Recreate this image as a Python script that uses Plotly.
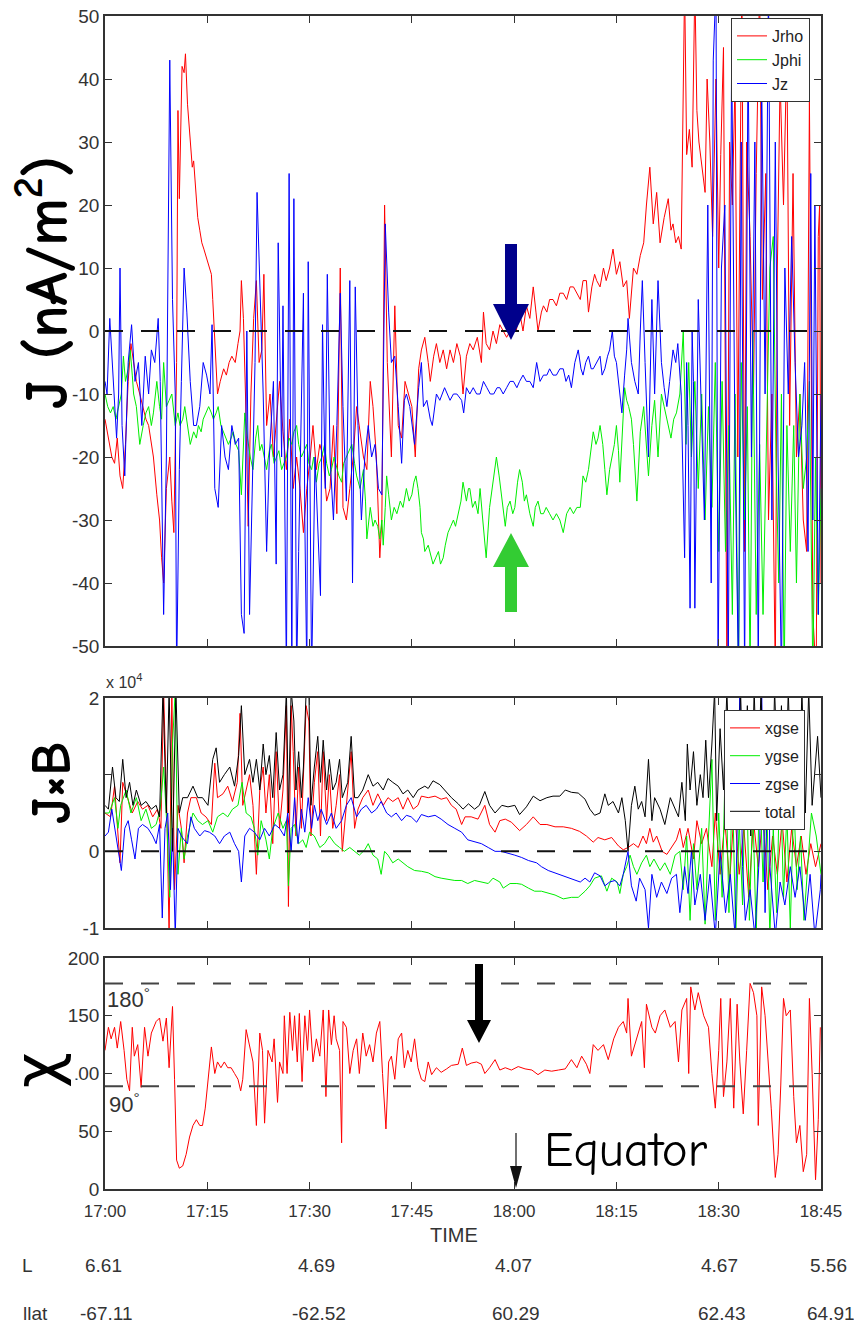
import plotly.graph_objects as go

W, H = 854, 1327

# ---------------- data (minutes after 17:00, value) ----------------
JRHO = [(0,-14),(0.5,-17),(1.0,-20),(1.4,-21),(1.8,-17),(2.2,-23),(2.6,-25),(3.0,-18),(3.4,-8),(3.8,-2),(4.2,-5),(4.6,-8),(5.1,-10),(5.6,-12),(6.0,-14),(6.4,-15),(6.8,-18),(7.1,-20),(7.6,-26),(8.0,-30),(8.3,-36),(8.6,-40),(9.0,-25),(9.5,-20),(9.8,-27),(10.1,-32),(10.5,-5),(10.7,35),(10.9,21),(11.1,30),(11.3,42),(11.6,41),(11.8,44),(12.1,36),(12.3,33),(12.5,30),(12.8,26),(13.0,27),(13.3,22),(13.6,18),(13.9,16),(14.2,14),(14.5,13),(14.8,12),(15.1,11),(15.4,10),(15.6,9),(15.8,5),(16.0,0),(16.2,-3),(16.5,-10),(16.9,-8),(17.4,-6),(17.8,-7),(18.2,-5),(18.6,-4),(19.1,-5),(19.5,-2),(19.8,0),(20.0,8),(20.3,2),(20.6,-10),(21.0,-31),(21.4,-10),(21.8,2),(22.2,8),(22.6,-5),(23.0,-3),(23.3,9),(23.7,-15),(24.2,-10),(24.7,-20),(25.1,-14),(25.6,-8),(26.1,-16),(26.6,-22),(27.1,-14),(27.6,-25),(28.1,-20),(28.6,-25),(29.1,-32),(29.6,-25),(30.1,-20),(30.5,-15),(31.0,-22),(31.5,-18),(32.0,-20),(32.5,-27),(33.0,-25),(33.5,-15),(34.0,-29),(34.5,10),(34.9,-28),(35.4,-30),(35.9,-25),(36.4,-20),(36.9,-12),(37.4,-16),(37.9,-20),(38.4,-22),(38.9,-8),(39.3,-12),(39.8,-20),(40.3,-36),(40.6,-30),(41.0,20),(41.4,-5),(42.0,-20),(42.5,4),(43.0,-15),(43.5,-17),(44.0,-8),(44.5,-10),(45.0,-12),(45.5,-20),(46.0,-6),(46.4,-3),(46.9,-1),(47.4,-5),(47.7,-8),(48.2,-4),(48.6,-2),(49.1,-5),(49.6,-3),(50.1,-6),(50.6,-3),(51.1,-5),(51.6,-2),(52.1,-4),(52.5,-10),(53.0,-4),(53.5,-2),(54.0,-3),(54.6,-1),(55.2,-5),(55.5,3),(55.9,-2),(56.4,-3),(56.9,0),(57.4,-2),(57.9,1),(58.4,0),(58.9,-1),(59.4,0),(59.9,2),(60.3,0),(60.8,3),(61.3,0),(61.8,4),(62.3,2),(62.8,7),(63.2,3),(63.5,0),(64.0,3),(64.3,4),(64.8,3),(65.2,5),(65.7,5),(66.2,4),(66.7,6),(67.2,6),(67.7,5),(68.2,7),(68.7,7),(69.2,6),(69.7,5),(70.1,8),(70.6,8),(70.9,3),(71.4,7),(71.8,9),(72.1,8),(72.6,7),(73.1,10),(73.5,8),(74.0,10),(74.5,13),(75.0,9),(75.5,11),(76.0,7),(76.5,8),(76.9,2),(77.5,10),(78.0,9),(78.5,12),(79.0,14),(79.4,20),(79.9,26),(80.4,17),(80.9,22),(81.4,14),(82.0,18),(82.6,21),(83.0,16),(83.3,17),(83.7,14),(84.1,15),(84.5,13),(85.0,55),(85.3,28),(85.7,32),(86.1,26),(86.5,55),(86.8,35),(87.1,30),(87.5,26),(88.0,22),(88.3,40),(88.7,30),(89.1,15),(89.6,40),(90.0,10),(90.3,28),(90.7,45),(91.2,-55),(91.6,30),(92.0,20),(92.4,40),(92.8,-20),(93.1,20),(93.4,55),(93.8,-35),(94.1,30),(94.6,15),(95.1,-10),(95.5,25),(96.0,55),(96.4,5),(96.9,25),(97.3,-30),(97.8,-10),(98.3,-55),(98.6,10),(99.0,40),(99.5,20),(100.0,45),(100.4,-15),(100.9,25),(101.4,-20),(101.9,-10),(102.4,-30),(102.9,-35),(103.3,37),(103.6,-10),(103.8,-45),(104.3,-55),(104.6,15),(104.8,20),(105,-40)]

JPHI = [(0,-10),(0.4,-12),(0.8,-13),(1.2,-12),(1.6,-14),(2.0,-12),(2.4,-10),(2.7,-4),(3.0,-8),(3.4,-6),(3.7,-3),(4.0,-7),(4.2,-10),(4.6,-12),(5.1,-18),(5.6,-15),(6.0,-13),(6.4,-12),(6.8,-15),(7.1,-13),(7.6,-8),(8.0,-12),(8.3,-14),(8.6,-5),(9.0,-12),(9.4,-11),(9.8,-10),(10.3,-15),(10.7,-13),(11.0,-15),(11.4,-14),(11.7,-12),(12.1,-15),(12.5,-18),(13.0,-16),(13.4,-17),(13.7,-15),(14.1,-16),(14.4,-14),(14.8,-13),(15.2,-12),(15.6,-13),(15.9,-14),(16.3,-13),(16.6,-12),(17.0,-15),(17.4,-16),(17.8,-17),(18.1,-18),(18.5,-17),(18.8,-16),(19.2,-18),(19.6,-19),(20.0,-26),(20.3,-18),(20.5,-13),(20.9,-17),(21.3,-20),(21.7,-22),(22.1,-17),(22.4,-15),(22.7,-19),(23.0,-18),(23.4,-20),(23.7,-22),(24.1,-19),(24.4,-18),(24.8,-21),(25.2,-20),(25.5,-19),(25.9,-22),(26.2,-21),(26.6,-20),(27.0,-17),(27.4,-18),(27.7,-16),(28.1,-15),(28.4,-18),(28.8,-20),(29.2,-19),(29.6,-18),(29.9,-21),(30.3,-22),(30.6,-20),(31.0,-24),(31.4,-21),(31.8,-20),(32.2,-18),(32.5,-21),(32.9,-23),(33.2,-22),(33.6,-20),(34.0,-22),(34.3,-23),(34.7,-24),(35.0,-21),(35.4,-20),(35.8,-19),(36.2,-18),(36.6,-21),(36.9,-23),(37.4,-25),(37.9,-22),(38.2,-27),(38.4,-33),(38.7,-30),(38.9,-28),(39.3,-31),(39.6,-30),(40.0,-31),(40.3,-33),(40.6,-30),(40.8,-34),(41.1,-28),(41.3,-23),(41.6,-26),(42.0,-30),(42.4,-28),(42.8,-29),(43.3,-27),(43.7,-28),(44.2,-25),(44.6,-27),(45.0,-26),(45.3,-24),(45.6,-23),(45.9,-25),(46.2,-28),(46.4,-32),(46.7,-33),(46.9,-35),(47.4,-34),(47.8,-36),(48.1,-37),(48.5,-36),(48.9,-35),(49.2,-37),(49.6,-36),(49.9,-34),(50.3,-32),(50.7,-31),(51.1,-30),(51.4,-31),(51.8,-29),(52.2,-27),(52.5,-24),(52.8,-26),(53.0,-27),(53.3,-25),(53.5,-25),(53.9,-28),(54.3,-27),(54.7,-29),(55.0,-25),(55.4,-30),(55.9,-36),(56.4,-28),(56.9,-24),(57.4,-20),(57.8,-23),(58.2,-27),(58.7,-31),(59.0,-28),(59.4,-27),(59.8,-29),(60.1,-28),(60.5,-24),(60.8,-22),(61.2,-24),(61.5,-27),(61.8,-26),(62.3,-29),(62.8,-31),(63.1,-28),(63.5,-27),(63.9,-29),(64.3,-29),(64.7,-28),(65.2,-29),(65.7,-30),(66.2,-29),(66.7,-30),(67.2,-32),(67.7,-29),(68.2,-28),(68.7,-29),(69.2,-28),(69.7,-28),(70.1,-23),(70.5,-24),(70.9,-22),(71.2,-19),(71.6,-16),(72.0,-18),(72.3,-17),(72.6,-15),(73.0,-18),(73.3,-22),(73.6,-26),(74.0,-22),(74.3,-20),(74.7,-18),(75.0,-15),(75.3,-19),(75.5,-24),(75.9,-14),(76.2,-9),(76.5,-11),(76.8,-12),(77.2,-14),(77.5,-18),(78.0,-27),(78.5,-16),(79.0,-12),(79.3,-17),(79.7,-23),(80.2,-15),(80.6,-11),(81.1,-20),(81.6,-10),(82.0,-12),(82.4,-14),(83.0,-17),(83.4,-14),(83.8,-13),(84.3,-10),(84.8,0),(85.2,-18),(85.6,-5),(86.0,-20),(86.5,-8),(87.0,-25),(87.5,-10),(88.0,-30),(88.5,-12),(89.0,-28),(89.5,-5),(90.0,-35),(90.5,-8),(91.0,-35),(91.5,-15),(92.0,-45),(92.4,-10),(92.9,-55),(93.3,-5),(93.8,-30),(94.2,-12),(94.6,-55),(95.0,0),(95.5,-45),(96.0,-18),(96.5,-45),(97.0,-20),(97.5,10),(98.0,15),(98.4,-20),(98.8,-40),(99.2,-10),(99.6,-55),(100.0,-15),(100.5,-35),(101.0,-15),(101.4,-40),(101.9,-10),(102.4,-25),(102.9,-20),(103.3,-8),(103.8,-55),(104.2,-20),(104.6,-45),(105,-25)]

JZ = [(0,-8),(0.3,-10),(0.7,2),(1.2,-8),(1.7,-17),(2.0,-10),(2.2,10),(2.5,-15),(2.9,-23),(3.4,-5),(3.9,1),(4.4,-8),(4.9,-5),(5.4,-15),(5.9,-4),(6.4,-10),(6.8,-3),(7.3,-5),(7.8,2),(8.1,-8),(8.6,-45),(9.0,-20),(9.5,43),(9.9,5),(10.3,-10),(10.5,-55),(10.9,-22),(11.2,-8),(11.6,10),(12.0,3),(12.5,-8),(13.0,-15),(13.4,-15),(13.9,-12),(14.4,-5),(14.9,-7),(15.4,-10),(15.7,1),(16.1,-25),(16.6,-28),(17.1,-15),(17.6,-20),(18.1,-22),(18.6,-15),(19.1,-18),(19.6,-17),(20.0,-45),(20.4,-48),(20.8,0),(21.2,-45),(21.5,-30),(22.0,-5),(22.3,22),(22.7,9),(23.2,-10),(23.7,-35),(24.1,-20),(24.7,-8),(25.1,-37),(25.4,14),(25.9,-20),(26.1,4),(26.6,-55),(27.0,25),(27.4,-55),(27.7,21),(28.1,-55),(28.4,-35),(28.8,-10),(29.1,6),(29.3,-30),(29.6,-55),(29.8,11),(30.3,-55),(30.8,-20),(31.3,-35),(31.6,-42),(31.9,1),(32.3,-25),(32.6,9),(33.0,-20),(33.5,-30),(34.0,-15),(34.5,6),(34.9,-12),(35.4,-27),(35.9,8),(36.3,-40),(36.7,7),(37.1,-15),(37.6,-30),(38.1,-20),(38.6,-15),(39.1,-20),(39.6,-18),(40.1,-25),(40.6,-26),(41.1,17),(41.6,3),(42.0,-5),(42.5,-4),(43.0,-12),(43.5,-21),(43.9,-11),(44.2,-10),(44.7,-12),(45.4,-18),(46.0,-9),(46.4,-5),(46.7,-12),(47.2,-11),(47.7,-14),(48.0,-15),(48.6,-10),(49.1,-11),(49.8,-9),(50.6,-11),(51.1,-10),(51.6,-10),(52.3,-11),(52.6,-13),(53.0,-9),(53.5,-10),(54.0,-9),(54.5,-10),(55.0,-10),(55.5,-8),(56.0,-9),(56.5,-10),(57.0,-10),(57.5,-9),(57.9,-9),(58.4,-10),(58.9,-9),(59.4,-8),(59.9,-8),(60.4,-9),(60.8,-8),(61.3,-7),(61.8,-8),(62.3,-8),(62.8,-9),(63.3,-5),(63.8,-8),(64.3,-7),(64.8,-7),(65.2,-6),(65.7,-7),(66.2,-7),(66.7,-6),(67.2,-6),(67.6,-8),(68.0,-7),(68.4,-9),(68.9,-5),(69.4,-3),(69.8,-6),(70.1,-7),(70.5,-5),(70.9,-4),(71.3,-6),(71.6,-6),(72.1,-5),(72.6,-4),(72.9,-7),(73.3,-6),(73.7,-4),(74.0,-3),(74.4,0),(74.7,-4),(75.0,-5),(75.4,-9),(75.8,-13),(76.2,-7),(76.5,-3),(76.7,2),(77.0,-3),(77.2,-5),(77.7,-8),(78.2,-10),(78.5,0),(78.8,8),(79.2,-5),(79.7,-20),(80.2,5),(80.6,-10),(81.1,8),(81.6,-5),(82.0,-9),(82.4,-12),(82.8,-8),(83.3,-3),(83.7,-5),(84.0,-2),(84.5,-10),(85.0,-36),(85.3,-5),(85.5,-15),(85.8,-44),(86.1,0),(86.3,-8),(86.5,-44),(87.0,5),(87.5,-15),(87.9,-30),(88.4,20),(88.9,-40),(89.2,43),(89.6,55),(89.9,-55),(90.4,10),(90.9,20),(91.4,-55),(91.9,45),(92.4,-20),(92.9,-55),(93.3,30),(93.8,-55),(94.3,45),(94.8,-20),(95.3,30),(95.8,-55),(96.3,40),(96.8,-10),(97.3,55),(97.8,-30),(98.3,30),(98.7,-20),(99.2,-55),(99.7,10),(100.2,-10),(100.7,15),(101.2,-5),(101.7,-20),(102.2,-15),(102.6,-5),(103.1,-35),(103.5,25),(103.8,-30),(104.1,20),(104.6,-45),(105,-10)]

XGSE = [(0,0.5),(0.8,0.45),(1.4,0.85),(2.0,0.0),(2.2,-0.15),(2.6,0.9),(3.3,0.7),(4.0,0.5),(4.8,0.65),(5.5,0.55),(6.3,0.6),(7.0,0.45),(7.7,0.55),(8.2,0.3),(8.6,2.1),(9.1,0.4),(9.4,-1.1),(9.8,2.1),(10.2,-0.5),(10.7,0.6),(11.2,0.3),(11.6,-0.15),(12.1,0.5),(12.6,0.7),(13.4,0.7),(14.1,0.5),(14.8,0.45),(15.6,0.35),(16.1,1.15),(16.5,0.7),(17.3,0.75),(18.0,0.85),(18.7,0.65),(19.4,0.9),(19.8,1.8),(20.2,0.6),(20.7,0.8),(21.2,1.0),(21.7,0.6),(22.2,-0.3),(22.7,0.8),(23.2,1.1),(23.6,0.5),(24.1,1.0),(24.6,0.1),(25.1,1.3),(25.6,0.3),(26.1,0.8),(26.6,1.9),(26.9,-0.72),(27.3,1.9),(27.6,1.3),(28.0,0.2),(28.4,1.1),(28.8,0.3),(29.1,0.9),(29.5,1.9),(29.9,1.7),(30.2,0.2),(30.7,0.9),(31.2,1.3),(31.6,0.2),(32.0,1.3),(32.5,0.4),(32.9,1.0),(33.4,0.3),(33.9,0.6),(34.4,1.0),(34.8,0.0),(35.4,0.6),(36.1,1.3),(36.6,0.3),(37.1,0.55),(37.8,0.7),(38.6,0.8),(39.3,0.6),(40.0,0.75),(40.8,0.6),(41.5,0.7),(42.2,0.65),(43.0,0.7),(43.7,0.55),(44.4,0.7),(45.2,0.55),(45.9,0.6),(46.4,0.72),(47.4,0.7),(48.4,0.72),(49.3,0.68),(50.1,0.7),(50.8,0.6),(51.5,0.55),(52.3,0.35),(52.8,0.45),(53.7,0.45),(54.7,0.42),(55.7,0.6),(56.4,0.35),(57.2,0.25),(57.9,0.4),(58.7,0.42),(59.6,0.38),(60.8,0.27),(61.8,0.35),(62.8,0.45),(63.8,0.35),(64.8,0.35),(66.0,0.32),(67.2,0.32),(68.4,0.3),(69.6,0.26),(70.6,0.2),(71.6,0.12),(72.3,0.18),(73.3,0.15),(74.3,0.18),(75.3,0.07),(76.0,0.02),(76.7,0.05),(77.5,0.1),(78.2,0.05),(78.9,0.2),(79.4,0.1),(79.9,0.3),(80.4,0.12),(80.9,0.2),(81.7,0.0),(82.4,-0.04),(83.1,0.05),(83.8,0.15),(84.3,0.3),(84.8,0.05),(85.5,0.3),(86.3,-0.1),(86.8,0.4),(87.5,0.1),(88.2,0.3),(89.0,-0.2),(89.5,0.5),(90.2,-0.3),(90.9,0.4),(91.6,-0.4),(92.3,0.6),(93.0,-0.3),(93.7,0.3),(94.4,-0.6),(95.1,0.4),(95.8,-0.2),(96.5,0.5),(97.2,-0.5),(97.9,0.2),(98.6,-0.3),(99.3,0.4),(100.0,-0.4),(100.7,0.3),(101.4,-0.2),(102.1,0.2),(102.8,-0.3),(103.5,0.1),(104.2,-0.2),(105,0.1)]

YGSE = [(0,0.5),(0.6,0.5),(1.4,0.7),(1.9,0.3),(2.3,0.6),(3.1,0.8),(3.8,0.5),(4.6,0.7),(5.3,0.4),(6.0,0.55),(6.8,0.3),(7.5,0.35),(8.1,0.55),(8.6,1.1),(9.1,0.3),(9.5,-0.6),(9.9,1.4),(10.3,2.1),(10.7,-0.3),(11.2,0.3),(11.6,-0.1),(12.1,0.2),(12.9,0.5),(13.6,0.4),(14.3,0.35),(15.1,0.4),(15.8,0.25),(16.5,0.45),(17.3,0.5),(18.0,0.45),(18.7,0.55),(19.5,0.6),(20.1,0.9),(20.7,0.5),(21.4,0.45),(21.9,0.3),(22.4,-0.05),(22.9,0.4),(23.6,0.15),(24.1,-0.1),(24.6,0.3),(25.4,0.5),(26.1,0.3),(26.6,0.4),(26.9,-0.45),(27.3,0.3),(27.8,0.35),(28.4,0.1),(29.0,0.15),(29.5,0.05),(30.0,0.25),(30.7,0.2),(31.5,0.05),(32.2,0.1),(32.9,0.2),(33.7,0.1),(34.4,0.05),(35.1,0.0),(35.9,0.05),(36.6,0.0),(37.3,-0.05),(38.1,0.02),(38.6,0.1),(39.3,-0.05),(40.0,-0.1),(40.5,-0.3),(41.0,0.0),(41.5,-0.05),(42.2,-0.15),(43.0,-0.1),(43.7,-0.15),(44.4,-0.2),(45.4,-0.25),(46.4,-0.26),(47.4,-0.28),(48.4,-0.33),(49.3,-0.35),(50.3,-0.37),(51.3,-0.38),(52.3,-0.38),(53.2,-0.42),(54.2,-0.38),(55.2,-0.4),(56.2,-0.42),(56.9,-0.35),(57.9,-0.4),(58.4,-0.48),(59.4,-0.42),(60.4,-0.42),(61.1,-0.43),(62.1,-0.48),(63.0,-0.52),(64.0,-0.52),(65.0,-0.55),(66.0,-0.57),(67.2,-0.62),(68.4,-0.6),(69.4,-0.6),(70.4,-0.52),(71.1,-0.45),(71.8,-0.35),(72.8,-0.32),(73.6,-0.52),(74.3,-0.35),(75.1,-0.4),(75.5,-0.55),(76.0,-0.3),(76.5,-0.2),(77.0,-0.05),(77.5,-0.2),(78.0,-0.3),(78.7,-0.15),(79.4,-0.05),(79.9,-0.2),(80.5,-0.1),(81.4,-0.25),(82.1,-0.15),(82.9,-0.3),(83.6,-0.05),(84.3,0.0),(84.8,-0.5),(85.3,0.2),(85.8,-0.9),(86.3,0.1),(86.8,-0.5),(87.5,0.3),(88.0,-0.95),(88.5,0.2),(89.0,1.2),(89.5,-0.9),(90.0,0.5),(90.5,-0.6),(91.0,1.3),(91.5,-0.8),(92.0,0.9),(92.5,-1.1),(93.0,0.4),(93.5,-0.7),(94.0,1.5),(94.5,-0.9),(95.0,0.6),(95.5,-1.1),(96.0,1.0),(96.5,-0.4),(97.0,0.8),(97.5,-1.1),(98.0,0.3),(98.5,-0.8),(99.0,1.2),(99.5,-0.6),(100.0,0.5),(100.5,-1.0),(101.0,0.7),(101.5,-0.5),(102.0,0.2),(102.5,-0.9),(103.0,-0.2),(103.6,0.5),(104.3,0.2),(105,-0.3)]

ZGSE = [(0,0.2),(0.5,0.25),(1.0,0.55),(1.5,0.25),(2.0,0.0),(2.4,-0.25),(2.9,0.3),(3.4,0.4),(3.9,0.15),(4.4,-0.1),(4.9,0.3),(5.5,0.35),(6.3,0.3),(7.0,0.2),(7.5,0.1),(8.0,0.35),(8.4,-0.87),(8.8,0.3),(9.2,0.5),(9.6,-0.5),(9.9,0.3),(10.3,-1.1),(10.7,0.3),(11.2,0.2),(11.6,0.15),(12.1,0.1),(12.6,0.45),(13.1,0.3),(13.9,0.2),(14.6,0.27),(15.3,0.25),(16.1,0.2),(16.8,0.1),(17.5,0.2),(18.3,0.25),(19.0,0.1),(19.6,0.0),(20.0,-0.4),(20.5,0.2),(21.2,0.3),(21.9,0.25),(22.7,0.15),(23.4,0.3),(24.1,0.2),(24.9,0.35),(25.6,0.3),(26.3,0.2),(26.8,0.5),(27.3,0.0),(27.8,0.7),(28.3,0.1),(28.8,0.55),(29.3,0.25),(29.8,0.7),(30.3,0.3),(30.7,0.6),(31.2,0.4),(31.7,0.55),(32.5,0.35),(33.2,0.5),(33.9,0.3),(34.7,0.4),(35.4,0.6),(36.1,0.7),(36.9,0.45),(37.6,0.55),(38.3,0.6),(39.1,0.5),(39.8,0.55),(40.5,0.65),(41.3,0.5),(42.0,0.45),(42.7,0.5),(43.5,0.4),(44.2,0.47),(44.9,0.45),(45.7,0.38),(46.4,0.48),(47.4,0.45),(48.4,0.47),(49.3,0.42),(50.3,0.35),(51.3,0.3),(52.3,0.25),(53.2,0.15),(54.2,0.12),(55.2,0.1),(56.2,0.05),(57.2,0.0),(58.1,0.0),(59.1,-0.02),(60.1,-0.05),(61.1,-0.08),(62.1,-0.12),(63.3,-0.15),(64.0,-0.2),(65.0,-0.25),(66.0,-0.28),(67.0,-0.32),(68.0,-0.35),(69.0,-0.38),(69.7,-0.4),(70.4,-0.35),(71.1,-0.4),(71.8,-0.28),(72.6,-0.32),(73.3,-0.45),(74.0,-0.4),(74.8,-0.38),(75.5,-0.45),(76.0,-0.3),(76.5,-0.1),(76.7,0.0),(77.2,-0.45),(77.9,-0.65),(78.4,-0.35),(79.2,-0.5),(79.7,-1.0),(80.2,-0.3),(80.9,-0.6),(81.6,-0.4),(82.4,-0.55),(83.1,-0.35),(83.8,-0.3),(84.3,-0.8),(85.0,-0.2),(85.5,-0.55),(86.0,0.0),(86.5,-0.7),(87.3,-0.3),(88.0,-0.9),(88.7,-0.3),(89.5,-1.1),(90.2,0.0),(91.0,-0.8),(91.7,-0.3),(92.4,-1.1),(93.1,2.1),(93.5,-0.2),(93.9,-0.9),(94.6,-0.5),(95.3,-1.1),(96.0,0.0),(96.3,2.1),(96.8,-0.8),(97.3,1.8),(97.5,-0.2),(98.3,-1.1),(99.0,-0.4),(99.7,-0.7),(100.5,-0.2),(101.2,-0.6),(101.9,-0.2),(102.7,-0.9),(103.4,-0.3),(104.1,-1.1),(104.9,-0.5),(105,-0.3)]

TOTAL = [(0,0.6),(0.5,0.55),(1.1,1.1),(1.6,0.7),(2.1,0.65),(2.6,1.2),(3.1,0.7),(3.6,0.9),(4.1,0.6),(4.6,0.8),(5.3,0.6),(6.0,0.65),(6.8,0.55),(7.5,0.6),(8.0,0.45),(8.5,2.1),(9.0,0.5),(9.4,2.1),(9.9,0.0),(10.4,2.1),(10.9,0.5),(11.4,0.7),(12.1,0.7),(12.9,0.85),(13.6,0.7),(14.3,0.7),(15.1,0.6),(15.8,1.2),(16.3,1.35),(16.8,0.9),(17.5,1.0),(18.3,1.1),(19.0,0.85),(19.6,1.25),(20.0,1.9),(20.5,1.0),(21.2,1.2),(21.7,0.9),(22.2,1.2),(22.7,0.8),(23.2,1.4),(23.6,1.0),(24.1,1.25),(24.6,0.7),(25.1,1.55),(25.6,0.8),(26.1,1.0),(26.6,2.1),(26.9,0.5),(27.3,2.1),(27.7,1.7),(28.0,0.8),(28.4,1.3),(28.8,0.7),(29.1,1.1),(29.5,2.1),(29.9,2.1),(30.2,0.6),(30.7,1.1),(31.2,1.5),(31.6,0.9),(32.0,1.45),(32.5,0.8),(32.9,1.2),(33.4,0.8),(33.9,0.9),(34.4,1.2),(34.8,0.7),(35.6,0.9),(36.1,1.5),(36.6,0.7),(37.1,0.7),(37.8,0.8),(38.6,1.0),(39.3,0.85),(40.0,0.9),(40.8,0.8),(41.5,0.95),(42.2,0.9),(43.0,0.85),(43.7,0.75),(44.4,0.8),(45.2,0.7),(45.9,0.8),(46.9,0.85),(47.4,0.82),(48.1,0.92),(49.1,0.87),(49.8,0.8),(50.8,0.7),(51.8,0.62),(52.5,0.55),(53.3,0.62),(54.2,0.55),(54.9,0.6),(55.7,0.78),(56.4,0.6),(57.2,0.5),(58.2,0.6),(59.1,0.58),(60.1,0.6),(60.8,0.48),(61.8,0.58),(62.8,0.72),(63.8,0.66),(64.8,0.7),(65.7,0.72),(66.7,0.72),(67.5,0.8),(68.4,0.77),(69.4,0.76),(70.4,0.68),(71.1,0.55),(71.8,0.47),(72.6,0.5),(73.3,0.75),(73.8,0.6),(74.5,0.65),(75.3,0.5),(75.8,0.7),(76.3,0.4),(76.7,0.0),(77.2,0.6),(77.7,0.85),(78.2,0.55),(78.7,0.65),(79.2,0.45),(79.7,1.2),(80.2,0.4),(80.6,0.7),(81.4,0.55),(82.1,0.35),(82.9,0.7),(83.6,0.55),(84.1,0.45),(84.6,0.9),(85.1,0.4),(85.4,1.4),(85.8,0.8),(86.3,1.3),(86.8,0.6),(87.3,1.0),(87.7,0.7),(88.1,1.45),(88.5,0.7),(89.0,1.4),(89.4,2.1),(89.7,0.4),(90.2,1.6),(90.7,0.8),(91.2,2.1),(91.7,0.6),(92.2,1.8),(92.7,0.3),(93.2,2.1),(93.7,0.5),(94.2,1.9),(94.7,0.2),(95.2,2.1),(95.7,0.6),(96.2,2.1),(96.7,0.4),(97.2,1.7),(97.7,0.3),(98.2,2.1),(98.7,0.8),(99.2,1.9),(99.7,0.4),(100.2,2.1),(100.7,0.6),(101.2,1.5),(101.7,0.3),(102.2,2.1),(102.7,0.5),(103.2,2.1),(103.7,0.6),(104.1,1.0),(104.5,1.5),(105,0.7)]

CHI = [(0,120),(0.5,140),(0.9,130),(1.4,140),(1.8,122),(2.3,145),(2.8,120),(3.2,95),(3.6,85),(4.0,140),(4.3,115),(4.8,125),(5.3,88),(5.8,140),(6.3,115),(6.8,135),(7.5,145),(8.0,148),(8.5,128),(9.0,148),(9.4,105),(9.9,158),(10.2,95),(10.5,25),(10.9,18),(11.4,20),(11.9,30),(12.4,45),(12.9,55),(13.4,60),(13.9,55),(14.3,55),(14.7,70),(15.1,95),(15.6,123),(16.1,100),(16.5,110),(17.0,105),(17.5,110),(18.0,105),(18.5,105),(19.0,100),(19.5,95),(19.9,85),(20.2,95),(20.7,138),(21.2,125),(21.7,110),(22.2,55),(22.7,135),(23.1,120),(23.4,57),(23.9,120),(24.5,110),(24.8,130),(25.3,75),(25.6,110),(26.1,100),(26.3,150),(26.7,100),(27.1,153),(27.5,120),(27.8,150),(28.2,110),(28.5,152),(28.9,93),(29.3,150),(29.7,120),(30.0,155),(30.5,110),(31.0,130),(31.5,115),(32.0,155),(32.4,80),(32.8,155),(33.2,125),(33.6,150),(33.9,130),(34.4,120),(34.7,40),(34.9,145),(35.4,140),(35.9,100),(36.4,120),(36.9,130),(37.3,100),(37.8,135),(38.3,115),(38.8,125),(39.3,110),(39.8,135),(40.3,145),(40.7,100),(41.2,52),(41.6,110),(42.0,115),(42.5,95),(43.0,130),(43.5,135),(43.9,105),(44.4,120),(44.9,110),(45.4,130),(45.9,105),(46.4,95),(46.9,93),(47.4,110),(47.9,99),(48.6,105),(49.3,101),(50.1,104),(50.8,107),(51.8,108),(52.4,122),(53.0,107),(53.7,109),(54.5,110),(55.2,108),(55.7,100),(56.4,105),(57.2,112),(57.9,103),(58.7,105),(59.6,103),(60.6,106),(61.6,104),(62.6,103),(63.5,99),(64.5,103),(65.5,102),(66.5,103),(67.5,104),(68.4,112),(69.2,105),(69.9,115),(70.6,108),(71.1,100),(71.6,125),(72.3,120),(73.1,125),(73.8,112),(74.6,130),(75.3,140),(76.0,145),(76.5,135),(76.7,165),(77.2,115),(77.9,130),(78.7,145),(79.1,105),(79.4,160),(80.2,140),(80.7,135),(81.4,150),(82.1,155),(82.9,140),(83.6,145),(84.1,110),(84.6,155),(85.3,165),(85.6,100),(85.9,175),(86.5,155),(87.0,170),(87.8,150),(88.5,140),(89.0,100),(89.5,70),(90.0,120),(90.3,165),(90.7,80),(91.2,110),(91.7,165),(92.2,70),(92.7,160),(93.1,110),(93.6,65),(94.1,120),(94.6,178),(95.1,170),(95.6,150),(95.8,55),(96.3,175),(96.8,150),(97.3,110),(97.7,70),(98.3,10),(98.7,30),(99.1,90),(99.5,165),(99.9,150),(100.5,155),(101.0,80),(101.4,40),(101.9,55),(102.4,15),(102.9,30),(103.3,165),(103.7,100),(104.2,8),(104.6,60),(104.9,140)]

TIME_TICKS = [0, 15, 30, 45, 60, 75, 90, 105]
TIME_LABELS = ["17:00", "17:15", "17:30", "17:45", "18:00", "18:15", "18:30", "18:45"]
J_TICKS = list(range(-50, 51, 10))
JXB_TICKS = [-1, 0, 1, 2]
JXB_LABELS = ["-1", "0", "", "2"]
CHI_TICKS = [0, 50, 100, 150, 200]
L_VALUES = ["6.61", "4.69", "4.07", "4.67", "5.56"]
ILAT_VALUES = ["-67.11", "-62.52", "60.29", "62.43", "64.91"]
ROW_X = [103, 316, 513, 719, 828]

# ---------------- helpers ----------------
def fx(px):
    return px / W

def fy(py):
    return 1 - py / H

def xs(s):
    return [p[0] for p in s]

def ys(s):
    return [p[1] for p in s]

SANS = "Liberation Sans, Arial, Helvetica, sans-serif"
TITLEF = "Comic Sans MS, Comic Neue, DejaVu Sans, sans-serif"
RED, GREEN, BLUE = "#ff0000", "#00ee00", "#0000ff"

fig = go.Figure()
lw = 1
def add(series, name, color, xa, ya, leg):
    fig.add_trace(go.Scatter(x=xs(series), y=ys(series), mode="lines", name=name,
                             line=dict(color=color, width=lw), xaxis=xa, yaxis=ya,
                             legend=leg, legendgroup=name, showlegend=leg is not None))

add(JRHO, "Jrho", RED, "x", "y", "legend")
add(JPHI, "Jphi", GREEN, "x", "y", "legend")
add(JZ, "Jz", BLUE, "x", "y", "legend")
add(XGSE, "xgse", RED, "x2", "y2", "legend2")
add(YGSE, "ygse", GREEN, "x2", "y2", "legend2")
add(ZGSE, "zgse", BLUE, "x2", "y2", "legend2")
add(TOTAL, "total", "#000000", "x2", "y2", "legend2")
add(CHI, "chi", RED, "x3", "y3", None)

def axis(**kw):
    d = dict(showline=True, linecolor="#333", linewidth=1.5, mirror="ticks",
             ticks="inside", ticklen=7, tickcolor="#333", showgrid=False,
             zeroline=False, automargin=False,
             tickfont=dict(family=SANS, size=19, color="#333"))
    d.update(kw)
    return d

xdom = [fx(105), fx(821)]
fig.update_layout(
    template="none",
    width=W, height=H, margin=dict(l=0, r=0, t=0, b=0, pad=0, autoexpand=False),
    paper_bgcolor="white", plot_bgcolor="white", showlegend=True,
    xaxis=axis(domain=xdom, range=[0, 105], tickvals=TIME_TICKS, showticklabels=False, anchor="y"),
    yaxis=axis(domain=[fy(646), fy(16)], range=[-50, 50], tickvals=J_TICKS, ticktext=[str(v) for v in J_TICKS], anchor="x"),
    xaxis2=axis(domain=xdom, range=[0, 105], tickvals=TIME_TICKS, showticklabels=False, anchor="y2"),
    yaxis2=axis(domain=[fy(928), fy(698)], range=[-1, 2], tickvals=JXB_TICKS, ticktext=JXB_LABELS, anchor="x2"),
    xaxis3=axis(domain=xdom, range=[0, 105], tickvals=TIME_TICKS, ticktext=TIME_LABELS, anchor="y3",
                ticklabelstandoff=6, tickfont=dict(family=SANS, size=17, color="#333")),
    yaxis3=axis(domain=[fy(1189), fy(958)], range=[0, 200], tickvals=CHI_TICKS, ticktext=[str(v) for v in CHI_TICKS], anchor="x3"),
    legend=dict(x=fx(731), y=fy(18), xanchor="left", yanchor="top", bgcolor="white",
                bordercolor="#333", borderwidth=1, font=dict(family=SANS, size=16, color="#222"),
                tracegroupgap=0, itemwidth=30),
    legend2=dict(x=fx(724), y=fy(710), xanchor="left", yanchor="top", bgcolor="white",
                 bordercolor="#333", borderwidth=1, font=dict(family=SANS, size=16, color="#222"),
                 tracegroupgap=4, itemwidth=30),
)

shapes = []
dash = "18px,18px"
shapes.append(dict(type="line", xref="x", yref="y", x0=0, x1=105, y0=0, y1=0, line=dict(color="#111", width=2, dash=dash), layer="above"))
shapes.append(dict(type="line", xref="x2", yref="y2", x0=0, x1=105, y0=0, y1=0, line=dict(color="#111", width=2, dash=dash), layer="above"))
shapes.append(dict(type="line", xref="x3", yref="y3", x0=0, x1=105, y0=178, y1=178, line=dict(color="#444", width=2, dash=dash), layer="above"))
shapes.append(dict(type="line", xref="x3", yref="y3", x0=0, x1=105, y0=89, y1=89, line=dict(color="#444", width=2, dash=dash), layer="above"))

def poly(points, color):
    d = "M " + " L ".join(f"{fx(px):.5f},{fy(py):.5f}" for px, py in points) + " Z"
    return dict(type="path", xref="paper", yref="paper", path=d, fillcolor=color, line=dict(width=0), layer="above")

# blue down arrow, green up arrow, black down arrow
shapes.append(poly([(505, 244), (517, 244), (517, 304), (529, 304), (511, 340), (493, 304), (505, 304)], "#00008c"))
shapes.append(poly([(505, 612), (517, 612), (517, 567), (529, 567), (511, 533), (493, 567), (505, 567)], "#33cc33"))
shapes.append(poly([(475, 964), (483, 964), (483, 1020), (491, 1020), (479, 1043), (467, 1020), (475, 1020)], "#000000"))
# small equator arrow
shapes.append(dict(type="line", xref="paper", yref="paper", x0=fx(516), x1=fx(516), y0=fy(1133), y1=fy(1172), line=dict(color="#111", width=1.2), layer="above"))
shapes.append(poly([(510, 1166), (522, 1166), (516, 1188)], "#111111"))
fig.update_layout(shapes=shapes)

ann = []
def text(x, y, s, size, family=SANS, color="#333", xanchor="center", **kw):
    ann.append(dict(x=fx(x), y=fy(y), xref="paper", yref="paper", text=s, showarrow=False,
                    xanchor=xanchor, yanchor="middle", font=dict(family=family, size=size, color=color), **kw))

# y titles
text(43, 283, "<b>J (nA/m<sup>2</sup>)</b>", 60, family=TITLEF, color="#000", textangle=-90)
text(52, 783, "<b>J×B</b>", 56, family=TITLEF, color="#000", textangle=-90)
text(38, 1070, "χ", 62, family=TITLEF, color="#000", textangle=-90, bgcolor="white")
# misc labels
text(104, 681, "x 10<sup>4</sup>", 16, xanchor="left")
text(105, 998, "180<sup>°</sup>", 22, xanchor="left")
text(107, 1103, "90<sup>°</sup>", 22, xanchor="left")
text(626, 1150, "Equator", 49, family=TITLEF, color="#000")
text(454, 1235, "TIME", 20)
text(27, 1265, "L", 19)
text(35, 1313, "llat", 19)
for x, lv, iv in zip(ROW_X, L_VALUES, ILAT_VALUES):
    text(x, 1265, lv, 19)
    text(x + 3, 1313, iv, 19)
fig.update_layout(annotations=ann)

fig.write_html("out.html", config={"displayModeBar": False, "responsive": False},
               post_script="document.body.style.margin='0px';document.body.style.padding='0px';")
